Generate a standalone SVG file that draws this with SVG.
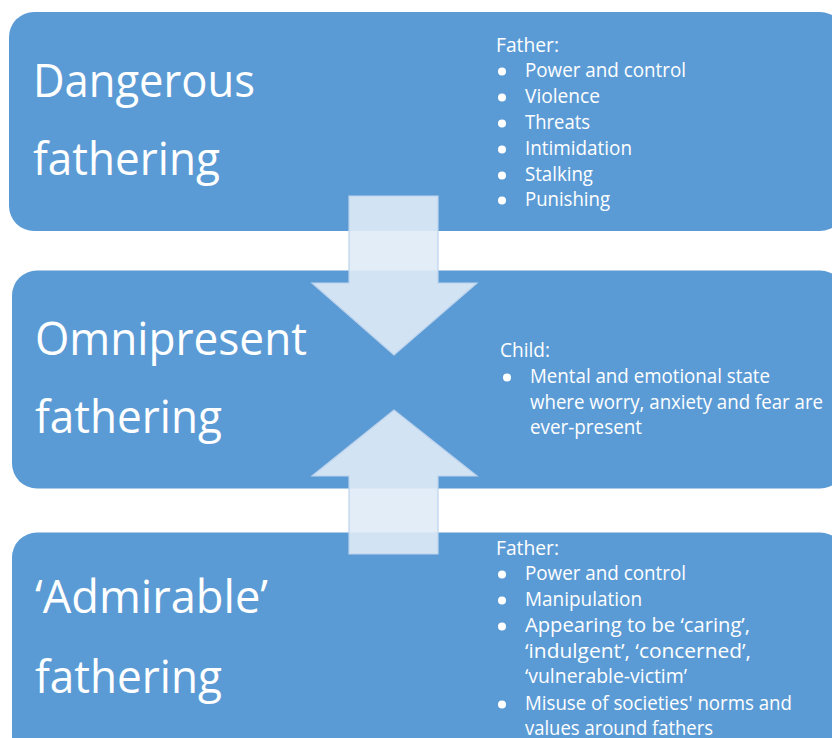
<svg xmlns="http://www.w3.org/2000/svg" width="832" height="738" viewBox="0 0 832 738">
<style>
.box{fill:#5B9BD5;}
.title{font-family:"Open Sans","Liberation Sans",sans-serif;font-size:45px;fill:#FFFFFF;}
.item{font-family:"Open Sans","Liberation Sans",sans-serif;font-size:19.5px;fill:#FFFFFF;}
.bul{fill:#FFFFFF;}
.arrow{fill:#DFEBF7;fill-opacity:0.9;stroke:#BCD3EC;stroke-width:1.2;}
</style>
<rect width="832" height="738" fill="#FFFFFF"/>
<g id="node-dangerous">
<rect class="box" x="9" y="12" width="836" height="219" rx="25" ry="25"/>
<text class="title" x="33" y="97" textLength="222" lengthAdjust="spacingAndGlyphs">Dangerous</text>
<text class="title" x="33" y="175" textLength="187" lengthAdjust="spacingAndGlyphs">fathering</text>
<text class="item" x="496" y="52" textLength="63" lengthAdjust="spacingAndGlyphs">Father:</text>
<circle class="bul" cx="502" cy="71.5" r="4"/>
<text class="item" x="525" y="77" textLength="161" lengthAdjust="spacingAndGlyphs">Power and control</text>
<circle class="bul" cx="502" cy="97.5" r="4"/>
<text class="item" x="525" y="103" textLength="75" lengthAdjust="spacingAndGlyphs">Violence</text>
<circle class="bul" cx="502" cy="123.5" r="4"/>
<text class="item" x="525" y="129" textLength="65" lengthAdjust="spacingAndGlyphs">Threats</text>
<circle class="bul" cx="502" cy="149.5" r="4"/>
<text class="item" x="525" y="155" textLength="107" lengthAdjust="spacingAndGlyphs">Intimidation</text>
<circle class="bul" cx="502" cy="175.5" r="4"/>
<text class="item" x="525" y="181" textLength="68" lengthAdjust="spacingAndGlyphs">Stalking</text>
<circle class="bul" cx="502" cy="200.5" r="4"/>
<text class="item" x="525" y="206" textLength="85" lengthAdjust="spacingAndGlyphs">Punishing</text>
</g>
<g id="node-omnipresent">
<rect class="box" x="12" y="270.5" width="833" height="218" rx="25" ry="25"/>
<text class="title" x="35" y="355" textLength="272" lengthAdjust="spacingAndGlyphs">Omnipresent</text>
<text class="title" x="35" y="433" textLength="187" lengthAdjust="spacingAndGlyphs">fathering</text>
<text class="item" x="500" y="357" textLength="50" lengthAdjust="spacingAndGlyphs">Child:</text>
<circle class="bul" cx="507" cy="377.5" r="4"/>
<text class="item" x="530" y="383" textLength="240" lengthAdjust="spacingAndGlyphs">Mental and emotional state</text>
<text class="item" x="530" y="409" textLength="293" lengthAdjust="spacingAndGlyphs">where worry, anxiety and fear are</text>
<text class="item" x="530" y="434" textLength="112" lengthAdjust="spacingAndGlyphs">ever-present</text>
</g>
<g id="node-admirable">
<rect class="box" x="12" y="532.5" width="833" height="250" rx="25" ry="25"/>
<text class="title" x="35" y="613" textLength="233" lengthAdjust="spacingAndGlyphs">‘Admirable’</text>
<text class="title" x="35" y="693" textLength="187" lengthAdjust="spacingAndGlyphs">fathering</text>
<text class="item" x="496" y="555" textLength="63" lengthAdjust="spacingAndGlyphs">Father:</text>
<circle class="bul" cx="502" cy="574.5" r="4"/>
<text class="item" x="525" y="580" textLength="161" lengthAdjust="spacingAndGlyphs">Power and control</text>
<circle class="bul" cx="502" cy="600.5" r="4"/>
<text class="item" x="525" y="606" textLength="117" lengthAdjust="spacingAndGlyphs">Manipulation</text>
<circle class="bul" cx="502" cy="626.5" r="4"/>
<text class="item" x="525" y="632" textLength="225" lengthAdjust="spacingAndGlyphs">Appearing to be ‘caring’,</text>
<text class="item" x="525" y="658" textLength="226" lengthAdjust="spacingAndGlyphs">‘indulgent’, ‘concerned’,</text>
<text class="item" x="525" y="683" textLength="162" lengthAdjust="spacingAndGlyphs">‘vulnerable-victim’</text>
<circle class="bul" cx="502" cy="704.5" r="4"/>
<text class="item" x="525" y="710" textLength="267" lengthAdjust="spacingAndGlyphs">Misuse of societies' norms and</text>
<text class="item" x="525" y="735" textLength="188" lengthAdjust="spacingAndGlyphs">values around fathers</text>
</g>
<g id="connectors">
<path class="arrow" d="M349,196 L438,196 L438,283 L477,283 L394,355 L312,283 L349,283 Z"/>
<path class="arrow" d="M349,554 L438,554 L438,476 L477,476 L394,410 L312,476 L349,476 Z"/>
</g>
</svg>
